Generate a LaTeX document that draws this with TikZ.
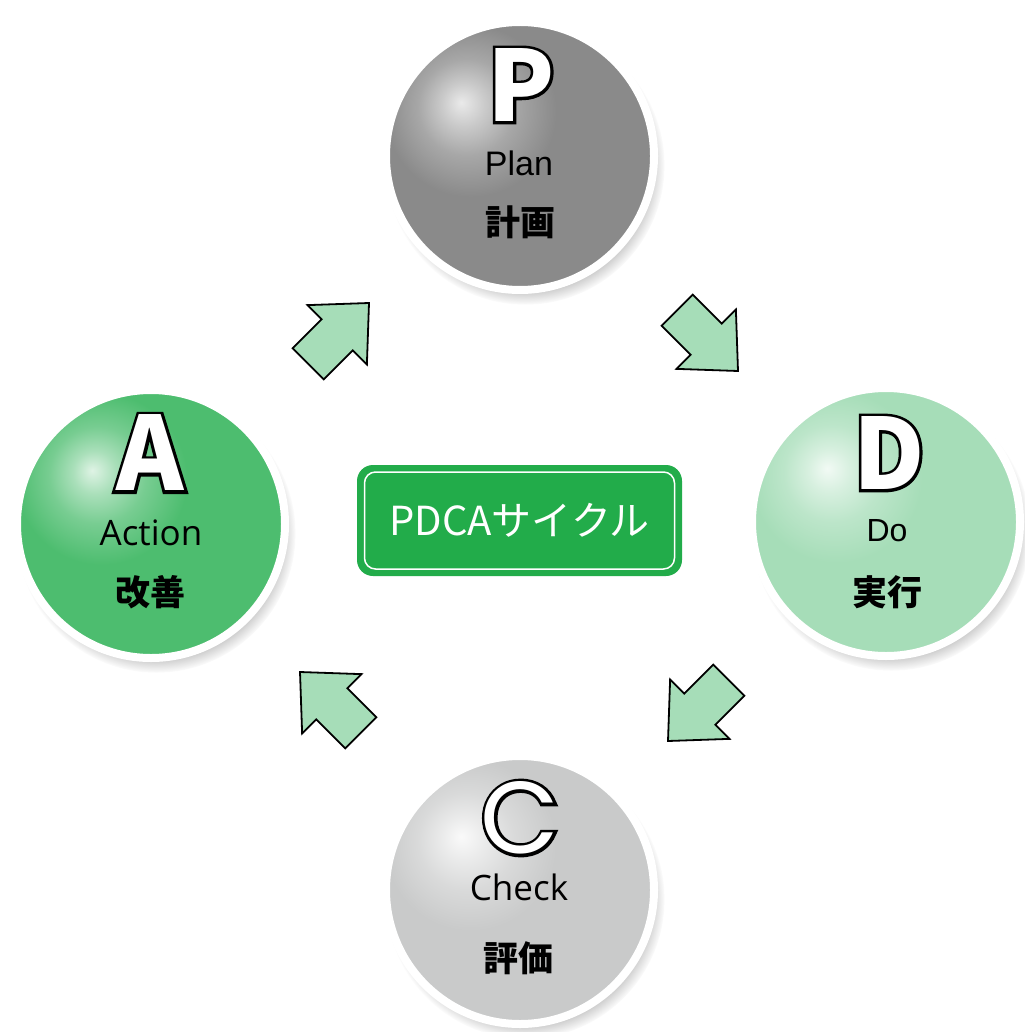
\documentclass[tikz,border=0pt]{standalone}
\usepackage{fontspec}
\usetikzlibrary{shadows,fadings,calc}
\newfontfamily\jp{Noto Sans CJK JP}
\newfontfamily\jpout{Noto Sans CJK JP}[BoldFeatures={FakeBold=6}]
\newfontfamily\arialf{Liberation Sans}
\newfontfamily\opensans{Open Sans}
\newfontfamily\popf{Poppins}
\newfontfamily\popout{Poppins}[FakeBold=6]
\definecolor{baseP}{HTML}{8A8A8A}
\definecolor{baseD}{HTML}{A6DDB8}
\definecolor{baseA}{HTML}{4DBD6F}
\definecolor{baseC}{HTML}{C9CACA}
\definecolor{arrowfill}{HTML}{A6DDB8}
\definecolor{boxgreen}{HTML}{22AC4A}
\pgfdeclareradialshading{ballP}{\pgfqpoint{-11bp}{10bp}}{color(0bp)=(white!82!baseP); color(4bp)=(white!55!baseP); color(9bp)=(white!25!baseP); color(16bp)=(baseP); color(100bp)=(baseP)}
\pgfdeclareradialshading{ballD}{\pgfqpoint{-11bp}{10bp}}{color(0bp)=(white!85!baseD); color(4bp)=(white!55!baseD); color(9bp)=(white!25!baseD); color(16bp)=(baseD); color(100bp)=(baseD)}
\pgfdeclareradialshading{ballA}{\pgfqpoint{-11bp}{10bp}}{color(0bp)=(white!82!baseA); color(4bp)=(white!52!baseA); color(9bp)=(white!24!baseA); color(16bp)=(baseA); color(100bp)=(baseA)}
\pgfdeclareradialshading{ballC}{\pgfqpoint{-11bp}{10bp}}{color(0bp)=(white!90!baseC); color(4bp)=(white!62!baseC); color(9bp)=(white!30!baseC); color(16bp)=(baseC); color(100bp)=(baseC)}
\tikzset{
  ball/.style={circle, minimum size=268pt, inner sep=0pt, draw=white, line width=8pt,
    circular drop shadow={shadow xshift=5pt, shadow yshift=-9pt, opacity=0.6, shadow scale=1.04}},
  letterfill/.style={inner sep=0pt, font=\jp\bfseries\fontsize{98pt}{98pt}\selectfont, text=white},
  letterline/.style={inner sep=0pt, font=\jpout\bfseries\fontsize{98pt}{98pt}\selectfont, text=black},
  latinA/.style={inner sep=0pt, font=\arialf\fontsize{34pt}{34pt}\selectfont},
  latinB/.style={inner sep=0pt, font=\opensans\fontsize{35pt}{35pt}\selectfont},
  jplabel/.style={inner sep=0pt, font=\jp\bfseries\fontsize{35pt}{35pt}\selectfont},
  blockarrow/.style={fill=arrowfill, draw=black, line width=1.8pt, line join=miter},
  pics/blockarr/.style={code={\draw[blockarrow] (0,0) -- (-45,42) -- (-45,22) -- (-86,22) -- (-86,-22) -- (-45,-22) -- (-45,-42) -- cycle;}}
}
\begin{document}
\begin{tikzpicture}[x=1pt,y=-1pt]
\fill[white] (0,0) rectangle (1024,1032);
\useasboundingbox (0,0) rectangle (1024,1032);
% balls
\node[ball, shading=ballP] (P) at (520,156) {};
\node[ball, shading=ballD] (D) at (886,522) {};
\node[ball, shading=ballA] (A) at (151,524) {};
\node[ball, shading=ballC] (C) at (520,890) {};
% P
\node[letterline] (Plo) at ($(P)+(1,-71)$) {P};
\node[letterfill] (Pl) at (Plo) {P};
\node[latinA] (Pt) at ($(P)+(-1,7)$) {Plan};
\node[jplabel] (Pj) at ($(P)+(0,66)$) {計画};
% D
\node[letterline] (Dlo) at ($(D)+(3,-69)$) {D};
\node[letterfill] (Dl) at (Dlo) {D};
\node[latinA, font=\arialf\fontsize{32pt}{32pt}\selectfont] (Dt) at ($(D)+(1,9)$) {Do};
\node[jplabel] (Dj) at ($(D)+(1,70)$) {実行};
% A
\node[letterline, font=\jpout\bfseries\fontsize{102pt}{102pt}\selectfont] (Alo) at ($(A)+(-1,-71)$) {A};
\node[letterfill, font=\jp\bfseries\fontsize{102pt}{102pt}\selectfont] (Al) at (Alo) {A};
\node[latinB] (At) at ($(A)+(0,9)$) {Action};
\node[jplabel] (Aj) at ($(A)+(-1,68)$) {改善};
% C
\node[letterline, font=\popout\fontsize{102pt}{102pt}\selectfont] (Clo) at ($(C)+(0,-72)$) {C};
\node[letterfill, font=\popf\fontsize{102pt}{102pt}\selectfont] (Cl) at (Clo) {C};
\node[latinB] (Ct) at ($(C)+(-1,-3)$) {Check};
\node[jplabel] (Cj) at ($(C)+(-2,68)$) {評価};
% center box
\node[fill=boxgreen, rounded corners=16pt, minimum width=325pt, minimum height=111pt, inner sep=0pt] (box) at (519.5,520.5) {};
\node[draw=white, line width=1.5pt, rounded corners=11pt, minimum width=310pt, minimum height=97pt, inner sep=0pt] (boxin) at (box) {};
\node[inner sep=0pt, text=white, font=\jp\fontsize{40pt}{40pt}\selectfont] (boxt) at (box) {PDCAサイクル};
% arrows
\coordinate (t1) at (369,303);
\coordinate (t2) at (738,371);
\coordinate (t3) at (668,741);
\coordinate (t4) at (300,672);
\pic[rotate=45] at (t1) {blockarr};
\pic[rotate=-45] at (t2) {blockarr};
\pic[rotate=-135] at (t3) {blockarr};
\pic[rotate=135] at (t4) {blockarr};
\end{tikzpicture}
\end{document}
